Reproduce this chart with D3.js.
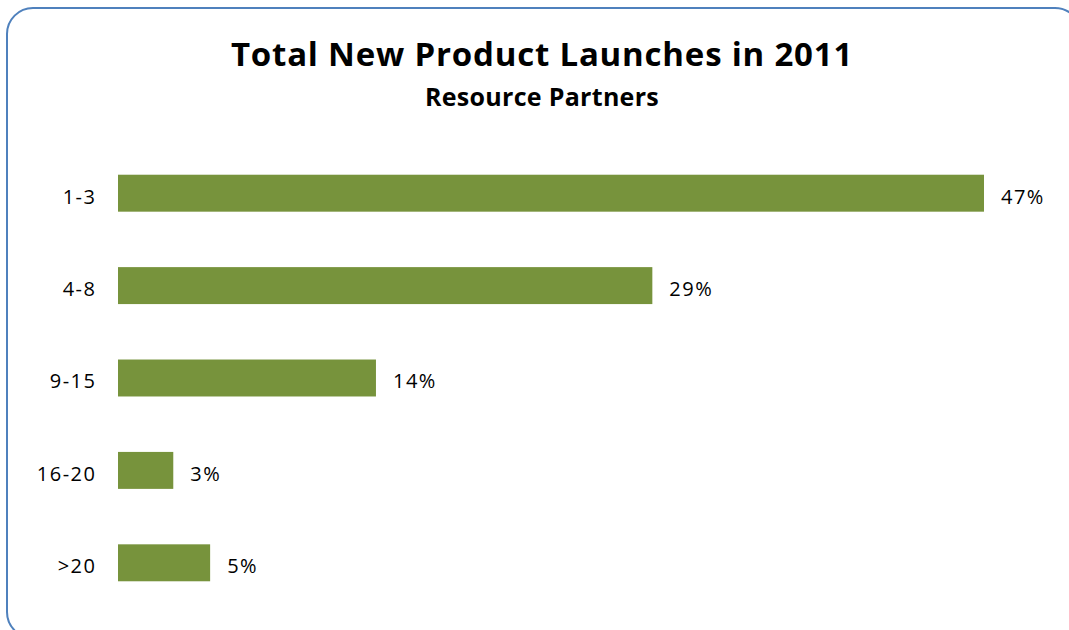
<!DOCTYPE html>
<html>
<head>
<meta charset="utf-8">
<script src="https://cdn.jsdelivr.net/npm/d3@7"></script>
<style>
  html, body { margin: 0; padding: 0; background: #fff; }
  svg { display: block; }
</style>
</head>
<body>
<svg id="chart" width="1069" height="630"></svg>
<script>
// Launch-count buckets and share of partners in each
const categories = ["1-3", "4-8", "9-15", "16-20", ">20"];
const shares = [47, 29, 14, 3, 5];
const valueLabels = ["47%", "29%", "14%", "3%", "5%"];

const titleText = "Total New Product Launches in 2011";
const subtitleText = "Resource Partners";

const svg = d3.select("#chart");
const font = "'Open Sans', Lato, sans-serif";

// Rounded frame around the chart area (right and bottom run past the viewport)
svg.append("rect")
  .attr("x", 7).attr("y", 8)
  .attr("width", 1074).attr("height", 630)
  .attr("rx", 26).attr("ry", 26)
  .attr("fill", "#fff")
  .attr("stroke", "#4F81BD")
  .attr("stroke-width", 2);

svg.append("text")
  .attr("x", 542).attr("y", 66)
  .attr("text-anchor", "middle")
  .attr("font-family", font)
  .attr("font-weight", "bold")
  .attr("font-size", 33)
  .attr("letter-spacing", 0.8)
  .attr("fill", "#000")
  .text(titleText);

svg.append("text")
  .attr("x", 542).attr("y", 106)
  .attr("text-anchor", "middle")
  .attr("font-family", font)
  .attr("font-weight", "bold")
  .attr("font-size", 25)
  .attr("letter-spacing", 0.3)
  .attr("fill", "#000")
  .text(subtitleText);

const x = d3.scaleLinear().domain([0, 47]).range([118, 984]);
const y = d3.scaleBand().domain(categories).range([146, 608]).paddingInner(0.6).paddingOuter(0.3);

const rows = categories.map((c, i) => ({ cat: c, v: shares[i], label: valueLabels[i] }));

svg.append("g").selectAll("rect")
  .data(rows)
  .join("rect")
  .attr("x", x(0))
  .attr("y", d => y(d.cat) + 1)
  .attr("width", d => x(d.v) - x(0))
  .attr("height", y.bandwidth())
  .attr("fill", "#77933C");

// Category axis on the left, without domain line or ticks
const yAxis = svg.append("g")
  .attr("transform", `translate(${x(0)},1)`)
  .call(d3.axisLeft(y).tickSize(0).tickPadding(21.5));
yAxis.select(".domain").remove();
yAxis.selectAll("text")
  .attr("font-family", font)
  .attr("font-size", 20)
  .attr("letter-spacing", 1.5)
  .attr("dy", "0.52em")
  .attr("fill", "#000");

svg.append("g").selectAll("text")
  .data(rows)
  .join("text")
  .attr("x", d => x(d.v) + 17)
  .attr("y", d => y(d.cat) + 1 + y.bandwidth() / 2)
  .attr("dy", "0.52em")
  .attr("font-family", font)
  .attr("font-size", 20)
  .attr("letter-spacing", 1.5)
  .attr("fill", "#000")
  .text(d => d.label);
</script>
</body>
</html>
